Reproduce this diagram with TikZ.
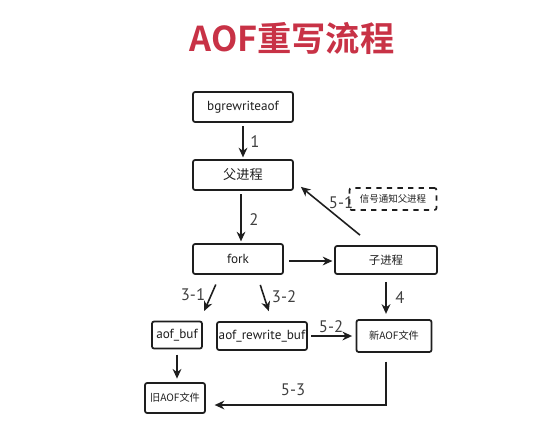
\documentclass[tikz,border=0pt]{standalone}
\usepackage{fontspec}
\setmainfont{PT Sans}
\newfontfamily\cjk{Noto Sans CJK SC}[BoldFont={* Bold}]
\usepackage{tikz}
\usetikzlibrary{
    arrows.meta,
    calc
}

\definecolor{titlered}{RGB}{200,50,70}
\definecolor{ink}{RGB}{30,30,30}

\tikzset{
    box/.style={draw=ink, line width=1pt, rounded corners=1.2pt, inner sep=0pt,
        text=ink, font=\fontsize{7.5}{8}\selectfont},
    cjkbox/.style={box, font=\cjk\fontsize{6.5}{7}\selectfont},
    arr/.style={draw=ink, line width=0.9pt, -{Stealth[length=5.5pt,width=5pt]}},
    num/.style={text=ink!85, font=\fontsize{9.5}{10}\selectfont}
}

\begin{document}
\begin{tikzpicture}[x=0.02cm, y=-0.02cm]

\useasboundingbox (0,0) rectangle (537,444);

% Title
\node[text=titlered, font=\cjk\bfseries\fontsize{19.5}{20}\selectfont] (title) at (292,38) {AOF重写流程};

% Boxes
\node[box, minimum width=2cm, minimum height=0.6cm] (bg) at (243,107) {bgrewriteaof};
\node[cjkbox, minimum width=2cm, minimum height=0.6cm, font=\cjk\fontsize{7.5}{8}\selectfont] (parent) at (243,175) {父进程};
\node[cjkbox, dashed, minimum width=1.74cm, minimum height=0.44cm, font=\cjk\fontsize{5.4}{6}\selectfont] (signal) at (393,199) {信号通知父进程};
\node[box, minimum width=1.8cm, minimum height=0.6cm] (fork) at (238,259) {fork};
\node[cjkbox, minimum width=2.04cm, minimum height=0.56cm] (child) at (386,260) {子进程};
\node[box, minimum width=1cm, minimum height=0.54cm] (aofbuf) at (177,335) {aof\_buf};
\node[box, minimum width=1.8cm, minimum height=0.56cm] (rwbuf) at (262,336) {aof\_rewrite\_buf};
\node[cjkbox, minimum width=1.5cm, minimum height=0.64cm, font=\cjk\fontsize{5.8}{6}\selectfont] (newaof) at (394,336) {新AOF文件};
\node[cjkbox, minimum width=1.2cm, minimum height=0.6cm, font=\cjk\fontsize{5.8}{6}\selectfont] (oldaof) at (175,398) {旧AOF文件};

% Arrows
\draw[arr, shorten <=2pt, shorten >=1pt] (bg) -- (parent);
\draw[arr, shorten <=2pt, shorten >=1pt] ([xshift=-0.04cm]parent.south) -- ([xshift=-0.04cm]parent.south |- fork.north);
\draw[arr, shorten <=3pt, shorten >=1pt] ([yshift=-0.04cm]fork.east) -- ([yshift=-0.04cm]fork.east -| child.west);
\draw[arr] ([xshift=-0.52cm,yshift=0.2cm]child.north) -- ([xshift=0.14cm,yshift=0.08cm]parent.south east);
\draw[arr, shorten <=6pt, shorten >=6pt] ([xshift=-0.36cm]fork.south) -- ([xshift=0.46cm]aofbuf.north);
\draw[arr, shorten <=6pt, shorten >=6pt] ([xshift=0.38cm]fork.south) -- ([xshift=0.2cm]rwbuf.north);
\draw[arr, shorten <=4pt, shorten >=3pt] (child.south) -- (child.south |- newaof.north);
\draw[arr, shorten <=2pt, shorten >=2pt] (rwbuf.east) -- (newaof.west);
\draw[arr, shorten <=3pt, shorten >=2pt] (aofbuf.south) -- (aofbuf.south |- oldaof.north);
\draw[arr, shorten <=5pt, shorten >=5pt] ([xshift=-0.16cm]newaof.south) |- ([yshift=-0.14cm]oldaof.east);

% Labels
\node[num] (l1) at (255,142) {1};
\node[num] (l2) at (254,220) {2};
\node[num] (l51) at (341,203) {5-1};
\node[num] (l31) at (193,295) {3-1};
\node[num] (l32) at (284,297) {3-2};
\node[num] (l4) at (400,298) {4};
\node[num] (l52) at (331,327) {5-2};
\node[num] (l53) at (293,390) {5-3};

\end{tikzpicture}
\end{document}
